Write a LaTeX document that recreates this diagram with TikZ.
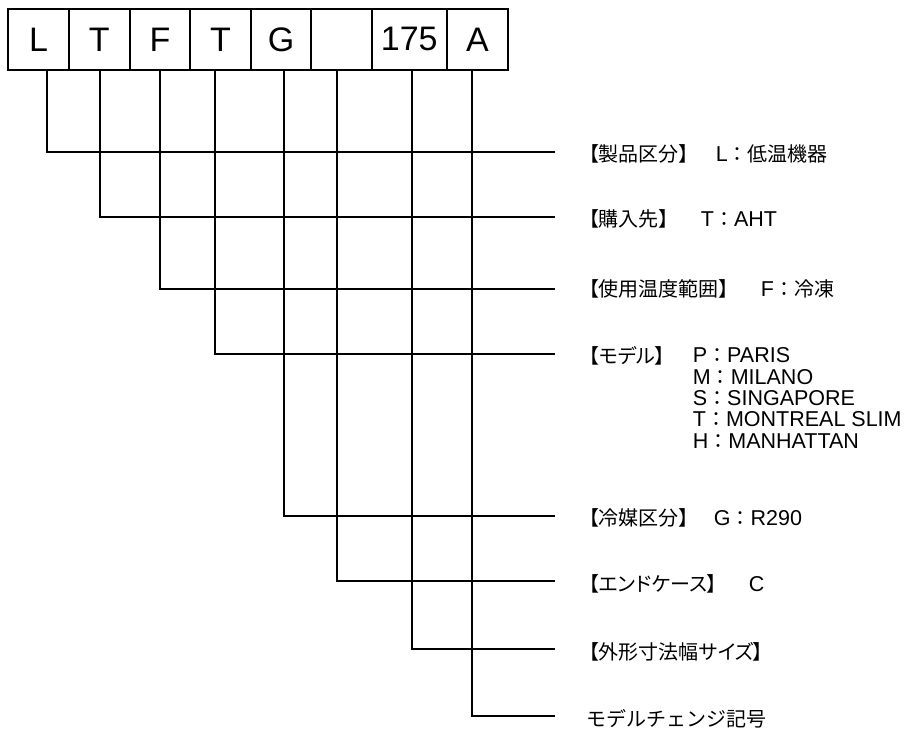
\documentclass[tikz,border=0pt]{standalone}
\usepackage{fontspec}
\setmainfont{Liberation Sans}
\newfontfamily\cjk{Noto Sans CJK JP}
\newfontfamily\cjkp[RawFeature=+palt]{Noto Sans CJK JP}
\newcommand{\jp}[1]{{\cjk\fontsize{20}{22}\selectfont #1}}
\newcommand{\jpp}[1]{{\cjkp\fontsize{20}{22}\selectfont #1}}
\begin{document}
\begin{tikzpicture}[x=1pt,y=-1pt,line width=1.8pt,
  cell/.style={draw, minimum height=61pt, inner sep=0pt, anchor=north west, font=\fontsize{34}{36}\selectfont},
  key/.style={anchor=west, inner sep=0pt, font=\fontsize{20}{22}\selectfont},
  val/.style={anchor=west, inner sep=0pt, font=\fontsize{21.5}{22}\selectfont},
  conn/.style={line width=1.8pt}]
\useasboundingbox (0,0) rectangle (906,733);
% code cells
\node[cell, minimum width=60.7pt] (c1) at (7.3,8) {L};
\node[cell, minimum width=60.7pt] (c2) at (68,8) {T};
\node[cell, minimum width=60.6pt] (c3) at (128.7,8) {F};
\node[cell, minimum width=60.7pt] (c4) at (189.3,8) {T};
\node[cell, minimum width=60.3pt] (c5) at (250,8) {G};
\node[cell, minimum width=60.4pt] (c6) at (310.3,8) {};
\node[cell, minimum width=75.3pt] (c7) at (370.7,8) {175};
\node[cell, minimum width=61pt] (c8) at (446,8) {A};
% line ends
\coordinate (e1) at (555,152);
\coordinate (e2) at (555,217);
\coordinate (e3) at (555,289);
\coordinate (e4) at (555,354);
\coordinate (e5) at (555,516);
\coordinate (e6) at (555,581);
\coordinate (e7) at (555,649);
\coordinate (e8) at (555,716);
% connectors
\draw[conn] ([xshift=8.35pt]c1.south) |- (e1);
\draw[conn] ([xshift=0.35pt]c2.south) |- (e2);
\draw[conn] ([xshift=0pt]c3.south) |- (e3);
\draw[conn] ([xshift=-5.65pt]c4.south) |- (e4);
\draw[conn] ([xshift=2.85pt]c5.south) |- (e5);
\draw[conn] ([xshift=-4.5pt]c6.south) |- (e6);
\draw[conn] ([xshift=2.65pt]c7.south) |- (e7);
\draw[conn] ([xshift=-5.5pt]c8.south) |- (e8);
% labels
\node[key] (k1) at (588,154) {\jpp{【製品区分】}};
\node[val] (v1) at (715,154) {L\jp{：低温機器}};
\node[key] (k2) at (588,219) {\jpp{【購入先】}};
\node[val] (v2) at (700,219) {T\jp{：}AHT};
\node[key] (k3) at (588,289) {\jpp{【使用温度範囲】}};
\node[val] (v3) at (760,289) {F\jp{：冷凍}};
\node[key] (k4) at (588,356) {\jpp{【モデル】}};
\node[anchor=north west, inner sep=0pt, align=left, font=\fontsize{21.5}{21.3}\selectfont] (v4) at (692,347)
  {P\jp{：}PARIS\\M\jp{：}MILANO\\S\jp{：}SINGAPORE\\T\jp{：}MONTREAL SLIM\\H\jp{：}MANHATTAN};
\node[key] (k5) at (588,518) {\jpp{【冷媒区分】}};
\node[val] (v5) at (713,518) {G\jp{：}R290};
\node[key] (k6) at (588,584) {\jpp{【エンドケース】}};
\node[val] (v6) at (748,584) {C};
\node[key] (k7) at (588,652) {\jpp{【外形寸法幅サイズ】}};
\node[key] (k8) at (586,719) {\jp{モデルチェンジ記号}};
\end{tikzpicture}
\end{document}
